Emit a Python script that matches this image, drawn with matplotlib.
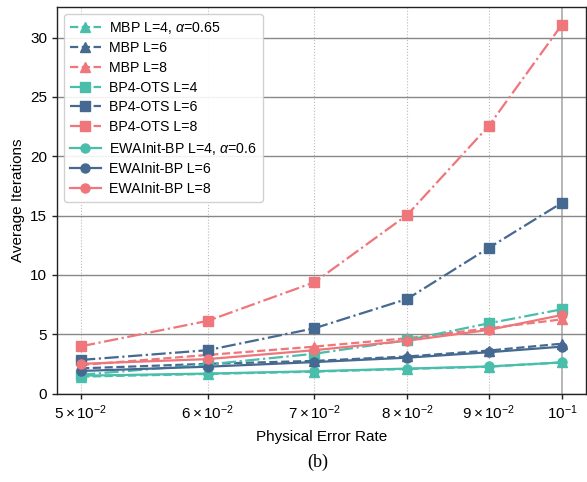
import matplotlib
matplotlib.use("Agg")
import matplotlib.pyplot as plt
import numpy as np

plt.rcParams['font.family'] = ['Liberation Sans', 'DejaVu Sans']
plt.rcParams['mathtext.fontset'] = 'custom'
plt.rcParams['mathtext.rm'] = 'Liberation Sans'
plt.rcParams['mathtext.it'] = 'Liberation Sans:italic'
plt.rcParams['mathtext.default'] = 'regular'

error_rates = [0.05, 0.06, 0.07, 0.08, 0.09, 0.10]

mbp_l4 = [1.42, 1.65, 1.84, 2.07, 2.26, 2.62]
mbp_l6 = [2.12, 2.50, 2.75, 3.12, 3.62, 4.20]
mbp_l8 = [2.40, 3.25, 3.95, 4.66, 5.50, 6.25]
ots_l4 = [1.58, 2.45, 3.35, 4.50, 5.92, 7.10]
ots_l6 = [2.83, 3.65, 5.50, 7.97, 12.28, 16.08]
ots_l8 = [3.98, 6.12, 9.38, 15.05, 22.57, 31.10]
ewa_l4 = [1.50, 1.68, 1.88, 2.10, 2.28, 2.62]
ewa_l6 = [1.90, 2.26, 2.65, 3.02, 3.48, 3.95]
ewa_l8 = [2.50, 2.90, 3.65, 4.45, 5.36, 6.62]

labels = ["MBP L=4, $\\mathit{\\alpha}$=0.65", "MBP L=6", "MBP L=8",
          "BP4-OTS L=4", "BP4-OTS L=6", "BP4-OTS L=8",
          "EWAInit-BP L=4, $\\mathit{\\alpha}$=0.6", "EWAInit-BP L=6", "EWAInit-BP L=8"]

c_teal, c_blue, c_pink = "#49BEAA", "#456990", "#EF767A"

fig = plt.figure(figsize=(5.87, 4.82), dpi=100)
ax = fig.add_axes([57/587, 1-393.5/482, (586-57)/587, (393.5-7)/482])

series = [
    (mbp_l4, c_teal, '--', '^'), (mbp_l6, c_blue, '--', '^'), (mbp_l8, c_pink, '--', '^'),
    (ots_l4, c_teal, '-.', 's'), (ots_l6, c_blue, '-.', 's'), (ots_l8, c_pink, '-.', 's'),
    (ewa_l4, c_teal, '-', 'o'), (ewa_l6, c_blue, '-', 'o'), (ewa_l8, c_pink, '-', 'o'),
]
for (vals, col, ls, mk), lab in zip(series, labels):
    ax.plot(error_rates, vals, color=col, linestyle=ls, marker=mk, markersize=6.5,
            linewidth=1.6, label=lab)

ax.set_xscale('log')
ax.set_ylim(bottom=0)
ax.set_axisbelow(True)
ax.grid(True, which='major', axis='y', color='#888888', linewidth=1.0)
ax.grid(True, which='major', axis='x', color='#aaaaaa', linewidth=1.2)
ax.grid(True, which='minor', axis='x', color='#bbbbbb', linewidth=0.8, linestyle=':')

for s in ax.spines.values():
    s.set_color('#222222')
    s.set_linewidth(1.0)

ax.tick_params(axis='both', which='both', direction='out', length=3.5, width=1.0,
               labelsize=11, colors='#222222', labelcolor='black')
ax.set_xlabel("Physical Error Rate", fontsize=11, labelpad=6)
ax.set_ylabel("Average Iterations", fontsize=11)

leg = ax.legend(loc='upper left', fontsize=10.2, frameon=True, fancybox=True,
                edgecolor='#cccccc', framealpha=0.9, handlelength=2.2,
                handletextpad=0.6, borderaxespad=0.5, labelspacing=0.4)

fig.text(318/587, 1-462/482, "(b)", ha='center', va='center', fontsize=13,
         family='Liberation Serif')

fig.savefig("out.png", dpi=100)
